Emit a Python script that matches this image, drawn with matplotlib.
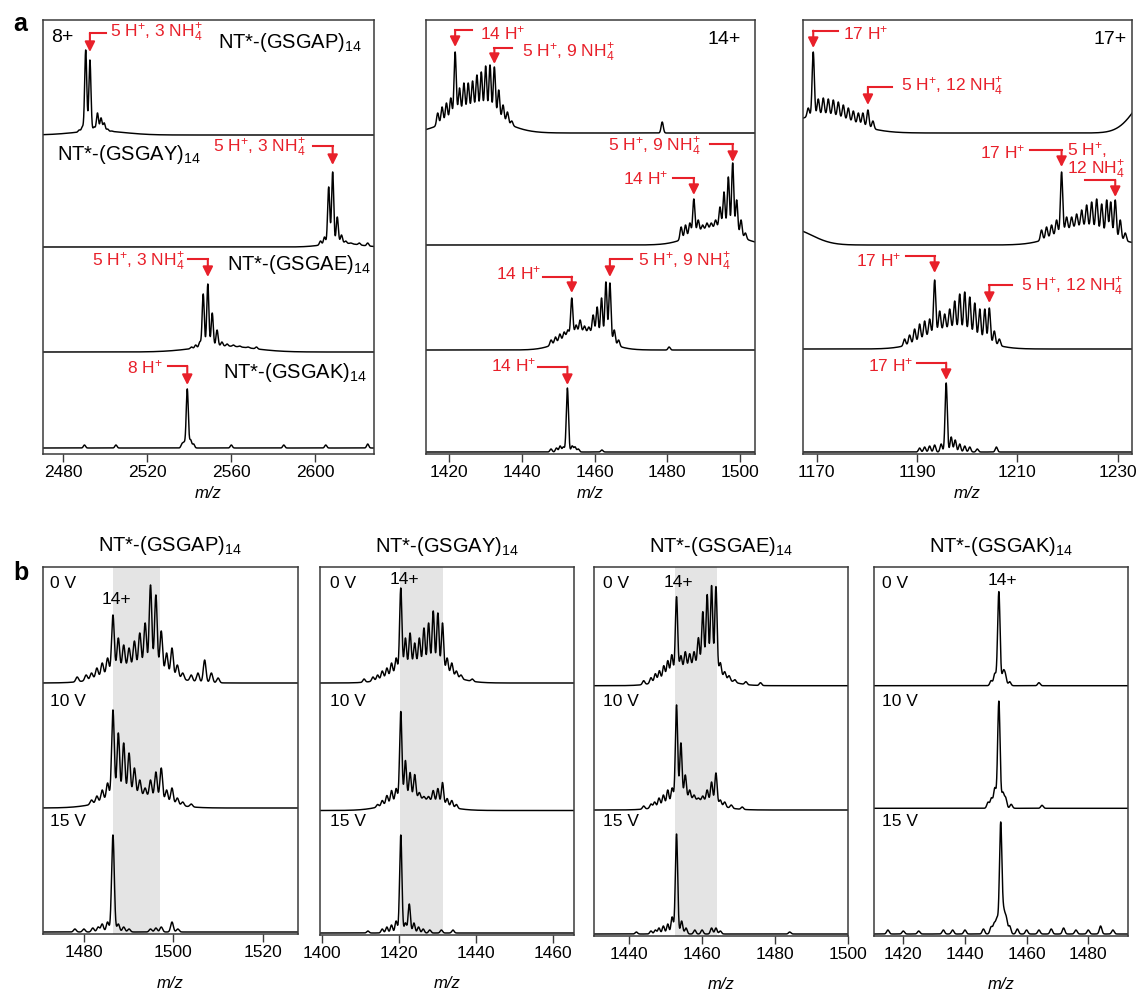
import numpy as np
import matplotlib
matplotlib.use('Agg')
import matplotlib.pyplot as plt

plt.rcParams['font.family'] = ['Liberation Sans', 'DejaVu Sans']
plt.rcParams['mathtext.fontset'] = 'custom'
plt.rcParams['mathtext.rm'] = 'Liberation Sans'
plt.rcParams['mathtext.it'] = 'Liberation Sans:italic'
plt.rcParams['mathtext.bf'] = 'Liberation Sans:bold'

W, H = 1138, 991
RED = '#e8202a'

# ---------------- DATA (peak m/z, apex heights, broad envelopes) ----------------
# Panel a, 8+ charge state
A8_GSGAP_mz = [2487.5, 2489.0, 2490.6, 2492.6, 2494.6, 2496.2, 2497.9, 2499.4, 2501.0, 2503.0]
A8_GSGAP_h = [5, 8, 85, 75, 8, 22, 17, 12, 6, 4]
A8_GSGAP_hump = [(2497, 4, 12)]
A8_GSGAY_mz = [2602.5, 2604.4, 2606.4, 2608.3, 2610.5, 2612.5, 2614.5, 2617.0, 2621.0, 2625.0]
A8_GSGAY_h = [6, 10, 60, 75, 30, 12, 6, 4, 4, 4]
A8_GSGAY_hump = [(2612, 4, 8)]
A8_GSGAE_mz = [2541.0, 2543.0, 2545.0, 2546.6, 2548.8, 2550.9, 2553.2, 2555.5, 2558.0, 2561.0, 2564.0, 2568.0, 2572.0]
A8_GSGAE_h = [5, 7, 10, 58, 68, 39, 22, 10, 8, 7, 6, 5, 5]
A8_GSGAE_hump = [(2556, 6, 14)]
A8_GSGAK_mz = [2490.0, 2505.0, 2536.5, 2537.5, 2539.0, 2540.6, 2542.0, 2560.0, 2585.0, 2605.0, 2625.0]
A8_GSGAK_h = [3, 3, 4, 5, 59, 8, 4, 3, 3, 3, 4]
A8_GSGAK_hump = []

# Panel a, 14+ charge state
A14_GSGAP_mz = [1416.8, 1418.0, 1419.2, 1420.4, 1421.6, 1422.8, 1424.0, 1425.2, 1426.4, 1427.6, 1428.8,
                1430.0, 1431.2, 1432.4, 1433.6, 1434.8, 1436.0, 1437.2, 1478.6]
A14_GSGAP_h = [20, 26, 30, 35, 81, 45, 50, 50, 52, 58, 61, 67, 68, 66, 43, 28, 21, 12, 11]
A14_GSGAP_hump = [(1427, 22, 7)]
A14_GSGAY_mz = [1483.8, 1485.0, 1486.2, 1487.3, 1488.5, 1489.7, 1490.9, 1492.1, 1493.3, 1494.5, 1495.6,
                1496.8, 1498.0, 1499.1, 1500.3, 1501.5]
A14_GSGAY_h = [18, 20, 22, 46, 25, 20, 22, 22, 25, 38, 53, 68, 82, 45, 25, 12]
A14_GSGAY_hump = [(1493, 17, 6)]
A14_GSGAE_mz = [1448.0, 1449.2, 1450.4, 1451.6, 1452.6, 1453.7, 1454.9, 1456.0, 1457.2, 1458.4, 1459.6,
                1460.7, 1461.9, 1463.1, 1464.2, 1465.4, 1466.6, 1480.5]
A14_GSGAE_h = [10, 13, 16, 18, 20, 52, 25, 30, 24, 23, 35, 43, 52, 68, 67, 20, 10, 3]
A14_GSGAE_hump = [(1457, 18, 5.5)]
A14_GSGAK_mz = [1448.0, 1449.5, 1450.5, 1451.4, 1452.5, 1453.8, 1454.6, 1455.5, 1462.0]
A14_GSGAK_h = [3, 4, 6, 5, 64, 6, 5, 3, 2]
A14_GSGAK_hump = []

# Panel a, 17+ charge state
A17_GSGAP_mz = [1168.3, 1169.3, 1170.3, 1171.3, 1172.3, 1173.3, 1174.3, 1175.3, 1176.3, 1177.3, 1178.3,
                1179.2, 1180.2, 1181.2]
A17_GSGAP_h = [25, 81, 34, 35, 34, 33, 31, 28, 25, 22, 20, 20, 23, 12]
A17_GSGAP_hump = [(1171, 18, 6), (1237, 40, 3.5)]
A17_GSGAY_mz = [1214.8, 1215.8, 1216.8, 1217.8, 1218.8, 1219.8, 1220.8, 1221.8, 1222.8, 1223.8, 1224.8,
                1225.8, 1226.8, 1227.8, 1228.6, 1229.5, 1230.5, 1231.5]
A17_GSGAY_h = [15, 18, 20, 25, 73, 28, 28, 31, 35, 40, 43, 46, 41, 45, 43, 45, 25, 12]
A17_GSGAY_hump = [(1223, 18, 5), (1165, 16, 4)]
A17_GSGAE_mz = [1187.5, 1188.5, 1189.5, 1190.5, 1191.5, 1192.5, 1193.5, 1194.5, 1195.5, 1196.5, 1197.5,
                1198.5, 1199.5, 1200.5, 1201.5, 1202.5, 1203.5, 1204.4, 1205.4, 1206.4]
A17_GSGAE_h = [10, 14, 20, 25, 28, 30, 69, 38, 35, 40, 48, 55, 57, 52, 46, 40, 40, 41, 18, 10]
A17_GSGAE_hump = [(1197, 20, 5)]
A17_GSGAK_mz = [1190.5, 1191.5, 1192.5, 1193.5, 1194.8, 1195.8, 1196.8, 1197.6, 1198.5, 1199.5, 1200.5,
                1202.0, 1205.8]
A17_GSGAK_h = [4, 5, 6, 7, 8, 69, 15, 12, 8, 6, 5, 3, 5]
A17_GSGAK_hump = []

# Panel b, 14+ at different activation voltages
B_GSGAP_0_mz = [1478.5, 1480.5, 1481.7, 1482.9, 1484.1, 1485.3, 1486.5, 1487.7, 1488.9, 1490.1, 1491.3,
                1492.5, 1493.7, 1494.9, 1496.1, 1497.3, 1498.5, 1499.7, 1500.9, 1502.1, 1504.0, 1505.5,
                1507.0, 1508.5, 1510.0]
B_GSGAP_0_h = [6, 8, 10, 15, 20, 25, 68, 45, 38, 35, 42, 50, 60, 98, 88, 52, 30, 35, 18, 10, 8, 10, 23, 10, 5]
B_GSGAP_0_hump = [(1492, 15, 6)]
B_GSGAP_10_mz = [1481.7, 1482.9, 1484.1, 1485.3, 1486.5, 1487.7, 1488.9, 1490.1, 1491.3, 1492.5, 1493.7,
                 1494.9, 1496.1, 1497.3, 1498.5, 1499.7, 1500.9, 1502.1, 1504.0]
B_GSGAP_10_h = [8, 12, 18, 25, 98, 75, 65, 55, 40, 28, 20, 28, 36, 40, 18, 20, 10, 6, 4]
B_GSGAP_10_hump = [(1491, 12, 6)]
B_GSGAP_15_mz = [1478.0, 1480.0, 1482.0, 1483.2, 1484.1, 1485.3, 1486.5, 1487.7, 1488.9, 1490.1, 1494.9,
                 1496.1, 1497.3, 1499.7, 1501.0]
B_GSGAP_15_h = [3, 3, 4, 5, 8, 10, 97, 8, 5, 3, 3, 4, 5, 10, 3]
B_GSGAP_15_hump = []

B_GSGAY_0_mz = [1411.0, 1413.3, 1414.5, 1415.7, 1416.9, 1418.1, 1419.3, 1420.5, 1421.7, 1422.9, 1424.1,
                1425.3, 1426.5, 1427.7, 1428.9, 1430.1, 1431.3, 1432.5, 1433.7, 1434.9, 1436.1, 1439.0]
B_GSGAY_0_h = [4, 6, 8, 12, 15, 20, 25, 95, 45, 50, 40, 45, 55, 60, 72, 70, 60, 25, 20, 12, 8, 4]
B_GSGAY_0_hump = [(1426, 18, 6)]
B_GSGAY_10_mz = [1414.5, 1415.7, 1416.9, 1418.1, 1419.3, 1420.5, 1421.7, 1422.9, 1424.1, 1425.3, 1426.5,
                 1427.7, 1428.9, 1430.1, 1431.3, 1432.5, 1433.7, 1434.9]
B_GSGAY_10_h = [6, 10, 15, 20, 22, 99, 50, 38, 36, 18, 14, 14, 20, 22, 28, 12, 10, 6]
B_GSGAY_10_hump = [(1424, 12, 6)]
B_GSGAY_15_mz = [1412.0, 1415.7, 1416.9, 1418.1, 1419.3, 1420.5, 1421.7, 1422.7, 1423.9, 1425.1, 1426.3,
                 1428.0, 1431.0, 1434.0]
B_GSGAY_15_h = [2, 4, 6, 8, 12, 98, 10, 29, 10, 6, 4, 3, 3, 3]
B_GSGAY_15_hump = []

B_GSGAE_0_mz = [1444.0, 1446.0, 1447.2, 1448.3, 1449.5, 1450.6, 1451.7, 1453.0, 1454.2, 1455.4, 1456.6,
                1457.8, 1459.0, 1460.2, 1461.4, 1462.6, 1463.8, 1465.0, 1466.2, 1467.4, 1469.0, 1472.0, 1476.0]
B_GSGAE_0_h = [5, 8, 12, 15, 20, 25, 31, 89, 30, 34, 32, 34, 48, 74, 91, 100, 99, 23, 14, 10, 6, 4, 3]
B_GSGAE_0_hump = [(1458, 18, 6)]
B_GSGAE_10_mz = [1444.0, 1446.0, 1447.0, 1448.2, 1449.4, 1450.6, 1451.8, 1453.0, 1454.2, 1455.4, 1456.6,
                 1457.8, 1459.0, 1460.2, 1461.4, 1462.6, 1463.8, 1465.0, 1466.2, 1468.0, 1471.0]
B_GSGAE_10_h = [4, 6, 8, 12, 15, 20, 22, 105, 67, 35, 20, 15, 12, 14, 20, 28, 37, 10, 8, 5, 3]
B_GSGAE_10_hump = [(1457, 10, 6)]
B_GSGAE_15_mz = [1442.0, 1446.0, 1447.2, 1448.2, 1449.4, 1450.6, 1451.8, 1453.0, 1454.4, 1455.6, 1458.0,
                 1460.0, 1462.6, 1463.8, 1465.0, 1484.0]
B_GSGAE_15_h = [2, 3, 4, 6, 8, 10, 17, 100, 13, 6, 4, 4, 6, 6, 3, 2]
B_GSGAE_15_hump = []

B_GSGAK_0_mz = [1448.5, 1449.7, 1451.0, 1452.4, 1453.1, 1454.5, 1464.0]
B_GSGAK_0_h = [5, 12, 94, 13, 10, 4, 3]
B_GSGAK_0_hump = []
B_GSGAK_10_mz = [1447.5, 1448.6, 1449.7, 1451.0, 1452.3, 1453.2, 1455.0, 1465.0]
B_GSGAK_10_h = [6, 10, 20, 107, 15, 10, 4, 3]
B_GSGAK_10_hump = []
B_GSGAK_15_mz = [1415.0, 1420.0, 1425.0, 1433.0, 1436.0, 1440.0, 1446.0, 1448.5, 1449.5, 1450.4, 1451.6,
                 1452.6, 1453.4, 1454.5, 1457.0, 1460.0, 1464.0, 1468.0, 1472.0, 1476.0, 1480.0, 1484.0, 1488.0]
B_GSGAK_15_h = [4, 3, 3, 4, 4, 4, 5, 7, 10, 15, 111, 20, 15, 8, 5, 4, 4, 5, 6, 4, 4, 8, 4]
B_GSGAK_15_hump = []

PROTEINS = ['GSGAP', 'GSGAY', 'GSGAE', 'GSGAK']
VOLTAGES = ['0 V', '10 V', '15 V']
TICKS_A = {'8+': [2480, 2520, 2560, 2600], '14+': [1420, 1440, 1460, 1480, 1500], '17+': [1170, 1190, 1210, 1230]}
TICKS_B = {'GSGAP': [1480, 1500, 1520], 'GSGAY': [1400, 1420, 1440, 1460],
           'GSGAE': [1440, 1460, 1480, 1500], 'GSGAK': [1420, 1440, 1460, 1480]}
XLIM_A = {'8+': (2470.1, 2628.0), '14+': (1413.5, 1504.0), '17+': (1167.2, 1232.9)}
XLIM_B = {'GSGAP': (1470.8, 1527.8), 'GSGAY': (1399.6, 1465.4), 'GSGAE': (1430.4, 1500.05), 'GSGAK': (1410.5, 1492.8)}
BAND_B = {'GSGAP': (1486.5, 1497.1), 'GSGAY': (1420.4, 1431.5), 'GSGAE': (1452.6, 1464.0)}

A_TRACES = {
    '8+': [(A8_GSGAP_mz, A8_GSGAP_h, A8_GSGAP_hump), (A8_GSGAY_mz, A8_GSGAY_h, A8_GSGAY_hump),
           (A8_GSGAE_mz, A8_GSGAE_h, A8_GSGAE_hump), (A8_GSGAK_mz, A8_GSGAK_h, A8_GSGAK_hump)],
    '14+': [(A14_GSGAP_mz, A14_GSGAP_h, A14_GSGAP_hump), (A14_GSGAY_mz, A14_GSGAY_h, A14_GSGAY_hump),
            (A14_GSGAE_mz, A14_GSGAE_h, A14_GSGAE_hump), (A14_GSGAK_mz, A14_GSGAK_h, A14_GSGAK_hump)],
    '17+': [(A17_GSGAP_mz, A17_GSGAP_h, A17_GSGAP_hump), (A17_GSGAY_mz, A17_GSGAY_h, A17_GSGAY_hump),
            (A17_GSGAE_mz, A17_GSGAE_h, A17_GSGAE_hump), (A17_GSGAK_mz, A17_GSGAK_h, A17_GSGAK_hump)],
}
B_TRACES = {
    'GSGAP': [(B_GSGAP_0_mz, B_GSGAP_0_h, B_GSGAP_0_hump), (B_GSGAP_10_mz, B_GSGAP_10_h, B_GSGAP_10_hump),
              (B_GSGAP_15_mz, B_GSGAP_15_h, B_GSGAP_15_hump)],
    'GSGAY': [(B_GSGAY_0_mz, B_GSGAY_0_h, B_GSGAY_0_hump), (B_GSGAY_10_mz, B_GSGAY_10_h, B_GSGAY_10_hump),
              (B_GSGAY_15_mz, B_GSGAY_15_h, B_GSGAY_15_hump)],
    'GSGAE': [(B_GSGAE_0_mz, B_GSGAE_0_h, B_GSGAE_0_hump), (B_GSGAE_10_mz, B_GSGAE_10_h, B_GSGAE_10_hump),
              (B_GSGAE_15_mz, B_GSGAE_15_h, B_GSGAE_15_hump)],
    'GSGAK': [(B_GSGAK_0_mz, B_GSGAK_0_h, B_GSGAK_0_hump), (B_GSGAK_10_mz, B_GSGAK_10_h, B_GSGAK_10_hump),
              (B_GSGAK_15_mz, B_GSGAK_15_h, B_GSGAK_15_hump)],
}

# ---------------- LAYOUT (pixel boxes; y data unit = figure pixel from top) ----------------
A_BOX = {'8+': (42.7, 374.0), '14+': (425.7, 754.5), '17+': (802.7, 1132.3)}
A_TOP, A_BOT = 20.0, 454.0
A_BASE = {'8+': [135, 247, 352, 448], '14+': [133, 245, 350, 452], '17+': [133, 245, 349, 452]}
A_SIGMA = {'8+': 0.5, '14+': 0.3, '17+': 0.22}
B_BOX = {'GSGAP': (42.7, 297.7), 'GSGAY': (320.0, 574.3), 'GSGAE': (594.0, 848.3), 'GSGAK': (874.0, 1127.7)}
B_TOP = 566.7
B_BOT = {'GSGAP': 934.3, 'GSGAY': 935.0, 'GSGAE': 936.0, 'GSGAK': 936.0}
B_BASE = {'GSGAP': [683, 808, 932], 'GSGAY': [683, 810.5, 933], 'GSGAE': [685.7, 810, 934],
          'GSGAK': [685.7, 808.3, 934]}
B_SIGMA = {'GSGAP': 0.3, 'GSGAY': 0.3, 'GSGAE': 0.32, 'GSGAK': 0.4}


def hump_val(x, humps):
    v = np.zeros_like(np.asarray(x, dtype=float))
    for c, a, s in humps:
        v = v + a * np.exp(-0.5 * ((np.asarray(x, dtype=float) - c) / s) ** 2)
    return v


def spectrum(x, mz, h, humps, sigma):
    sig = hump_val(x, humps)
    for m, hh in zip(mz, h):
        amp = max(hh - float(hump_val(np.array([m]), humps)[0]), 0.0)
        sig = sig + amp * np.exp(-0.5 * ((x - m) / sigma) ** 2)
    return sig


fig = plt.figure(figsize=(W / 100, H / 100), dpi=100)


def make_ax(l, r, t, b, xlim):
    ax = fig.add_axes([l / W, 1 - b / H, (r - l) / W, (b - t) / H])
    ax.set_xlim(*xlim)
    ax.set_ylim(b, t)
    ax.set_yticks([])
    for s in ax.spines.values():
        s.set_color('#3a3a3a')
        s.set_linewidth(1.1)
    ax.tick_params(axis='x', direction='out', length=6, width=1.0, labelsize=12.5, pad=2, color='#3a3a3a')
    return ax


def px2x(box, xlim, px):
    l, r = box
    return xlim[0] + (px - l) * (xlim[1] - xlim[0]) / (r - l)


def elbow(ax, box, xlim, arrow_mz, tip_y, bar_y, bar_px, text, text_px, text_y, ha):
    xb = px2x(box, xlim, bar_px)
    ax.plot([xb, arrow_mz], [bar_y, bar_y], color=RED, lw=1.5, solid_capstyle='projecting', clip_on=False)
    ax.annotate('', xy=(arrow_mz, tip_y), xytext=(arrow_mz, bar_y),
                arrowprops=dict(arrowstyle='-|>', color=RED, lw=1.5, mutation_scale=15,
                                shrinkA=0, shrinkB=0), annotation_clip=False)
    if text:
        ax.text(px2x(box, xlim, text_px), text_y, text, color=RED, fontsize=12.5, ha=ha, va='center', clip_on=False)


AX_A = {}
for key in ['8+', '14+', '17+']:
    box = A_BOX[key]
    ax = make_ax(box[0], box[1], A_TOP, A_BOT, XLIM_A[key])
    ax.set_xticks(TICKS_A[key])
    x = np.linspace(XLIM_A[key][0], XLIM_A[key][1], 6000)
    for (mz, h, hp), base in zip(A_TRACES[key], A_BASE[key]):
        ax.plot(x, base - spectrum(x, mz, h, hp, A_SIGMA[key]), color='black', lw=1.05)
    ax.text((XLIM_A[key][0] + XLIM_A[key][1]) / 2, 493, 'm/z', fontsize=12, style='italic',
            ha='center', va='center', clip_on=False)
    AX_A[key] = ax

H1 = '5 H$^{+}$, 3 NH$_{4}^{+}$'
H2 = '5 H$^{+}$, 9 NH$_{4}^{+}$'
H3 = '5 H$^{+}$, 12 NH$_{4}^{+}$'

# column 8+
k = '8+'; ax = AX_A[k]; bx = A_BOX[k]; xl = XLIM_A[k]
ax.text(px2x(bx, xl, 51), 38, '8+', fontsize=14, ha='left', va='center')
elbow(ax, bx, xl, A8_GSGAP_mz[3], 52, 33, 106, H1, 110, 33, 'left')
elbow(ax, bx, xl, A8_GSGAY_mz[3], 165, 146, 313, H1, 213, 148, 'left')
elbow(ax, bx, xl, A8_GSGAE_mz[4], 277, 259, 188, H1, 185, 262, 'right')
elbow(ax, bx, xl, A8_GSGAK_mz[4], 385, 366, 168, '8 H$^{+}$', 163, 367, 'right')
for name, px, py in [('GSGAP', 218, 43), ('GSGAY', 57, 155), ('GSGAE', 227, 265), ('GSGAK', 223, 372)]:
    ax.text(px2x(bx, xl, px), py, 'NT*-(%s)$_{14}$' % name, fontsize=14.5, ha='left', va='center')

# column 14+
k = '14+'; ax = AX_A[k]; bx = A_BOX[k]; xl = XLIM_A[k]
ax.text(px2x(bx, xl, 708), 39, '14+', fontsize=14, ha='left', va='center')
elbow(ax, bx, xl, A14_GSGAP_mz[4], 47, 30, 471.7, '14 H$^{+}$', 480, 33, 'left')
elbow(ax, bx, xl, A14_GSGAP_mz[13], 64, 48, 511.7, H2, 521.7, 53, 'left')
elbow(ax, bx, xl, A14_GSGAY_mz[12], 162, 144, 710, H2, 608.3, 147, 'left')
elbow(ax, bx, xl, A14_GSGAY_mz[3], 195, 178, 673.3, '14 H$^{+}$', 623.3, 178, 'left')
elbow(ax, bx, xl, A14_GSGAE_mz[5], 293, 276.7, 543.3, '14 H$^{+}$', 541.7, 273, 'right')
elbow(ax, bx, xl, A14_GSGAE_mz[14], 277, 259, 631.7, H2, 638.3, 262, 'left')
elbow(ax, bx, xl, A14_GSGAK_mz[4], 385, 366.7, 538.3, '14 H$^{+}$', 536.7, 365, 'right')

# column 17+
k = '17+'; ax = AX_A[k]; bx = A_BOX[k]; xl = XLIM_A[k]
ax.text(px2x(bx, xl, 1093.3), 39, '17+', fontsize=14, ha='left', va='center')
elbow(ax, bx, xl, A17_GSGAP_mz[1], 48, 30.7, 838.3, '17 H$^{+}$', 843.3, 33, 'left')
elbow(ax, bx, xl, A17_GSGAP_mz[12], 105, 87, 891.7, H3, 900.7, 87, 'left')
elbow(ax, bx, xl, A17_GSGAY_mz[4], 167, 150, 1030, '17 H$^{+}$', 1025, 152, 'right')
elbow(ax, bx, xl, A17_GSGAY_mz[15], 197, 180, 1085, '', 0, 0, 'left')
ax.text(px2x(bx, xl, 1066.7), 150, '5 H$^{+}$,', color=RED, fontsize=12.5, ha='left', va='center')
ax.text(px2x(bx, xl, 1067.3), 170, '12 NH$_{4}^{+}$', color=RED, fontsize=12.5, ha='left', va='center',
        clip_on=False)
elbow(ax, bx, xl, A17_GSGAE_mz[6], 273, 256, 906, '17 H$^{+}$', 901.7, 260, 'right')
elbow(ax, bx, xl, A17_GSGAE_mz[17], 303, 285, 1011.7, H3, 1020.7, 287, 'left')
elbow(ax, bx, xl, A17_GSGAK_mz[5], 380, 362.7, 917.3, '17 H$^{+}$', 913.3, 365, 'right')

# ---------------- panel b ----------------
B_14_POS = {'GSGAP': (101.7, 600), 'GSGAY': (390, 580), 'GSGAE': (663.3, 582), 'GSGAK': (987.7, 580)}
B_V_X = {'GSGAP': 50, 'GSGAY': 330, 'GSGAE': 603.3, 'GSGAK': 881.7}
B_V_Y = [583.3, 701.7, 821.7]
for p in PROTEINS:
    bx = B_BOX[p]; xl = XLIM_B[p]
    ax = make_ax(bx[0], bx[1], B_TOP, B_BOT[p], xl)
    ax.set_xticks(TICKS_B[p])
    if p in BAND_B:
        ax.axvspan(BAND_B[p][0], BAND_B[p][1], color='#e4e4e4', lw=0, zorder=0)
    x = np.linspace(xl[0], xl[1], 5000)
    for (mz, h, hp), base in zip(B_TRACES[p], B_BASE[p]):
        ax.plot(x, base - spectrum(x, mz, h, hp, B_SIGMA[p]), color='black', lw=1.05, zorder=2)
    for v, vy in zip(VOLTAGES, B_V_Y):
        ax.text(px2x(bx, xl, B_V_X[p]), vy, v, fontsize=12.5, ha='left', va='center', zorder=3)
    ax.text(px2x(bx, xl, B_14_POS[p][0]), B_14_POS[p][1], '14+', fontsize=12.5, ha='left', va='center', zorder=3)
    ax.text((xl[0] + xl[1]) / 2, 546, 'NT*-(%s)$_{14}$' % p, fontsize=14.5, ha='center', va='center',
            clip_on=False)
    ax.text((xl[0] + xl[1]) / 2, 984, 'm/z', fontsize=12, style='italic', ha='center', va='center',
            clip_on=False)

fig.text(13 / W, 1 - 24 / H, 'a', fontsize=18, fontweight='bold', ha='left', va='center')
fig.text(13 / W, 1 - 573 / H, 'b', fontsize=18, fontweight='bold', ha='left', va='center')

fig.savefig('out.png', dpi=100)
